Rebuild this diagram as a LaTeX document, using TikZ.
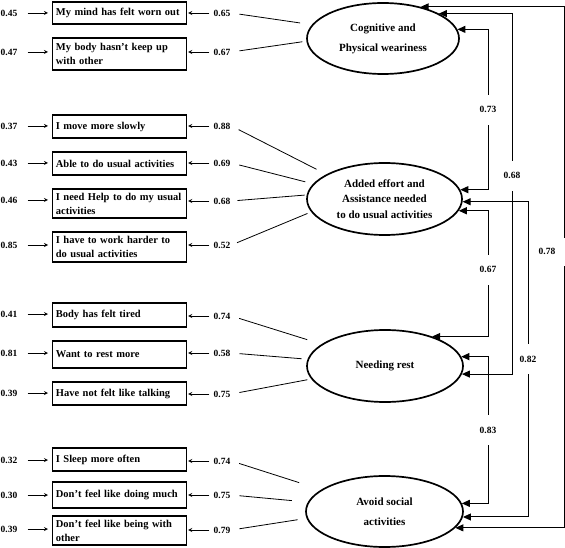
\documentclass[tikz,border=0pt]{standalone}
\usepackage{fontspec}
\setmainfont{Liberation Serif}
\usepackage{tikz}
\usetikzlibrary{arrows,arrows.meta,shapes,positioning,calc}
\tikzstyle{arrow} = [->,>=stealth, line width=0.8pt]
\tikzstyle{corr} = [{Triangle[length=8pt,width=7pt]}-{Triangle[length=8pt,width=7pt]}, line width=1pt]
\tikzstyle{link} = [line width=0.8pt]
\tikzstyle{item} = [rectangle, draw, line width=1.2pt, anchor=west, text width=127.5pt, inner xsep=3.25pt, inner ysep=2pt, minimum height=23pt, align=left, font=\fontsize{10.5}{14}\selectfont\bfseries]
\tikzstyle{factor} = [ellipse, draw, line width=1.7pt, inner sep=0pt, align=center, font=\fontsize{11}{15.5}\selectfont\bfseries]
\tikzstyle{num} = [inner sep=1pt, font=\fontsize{9.5}{11}\selectfont\bfseries]
\tikzstyle{rlab} = [num, fill=white, minimum height=30pt]

\begin{document}
\begin{tikzpicture}[x=1pt, y=-1pt]
    \useasboundingbox (0,0) rectangle (565,548);

    % Four factors
    \node[factor, minimum width=152pt, minimum height=71pt] (f1) at (383,38.5) {Cognitive and\\[4.5pt]Physical weariness};
    \node[factor, minimum width=155pt, minimum height=72pt] (f2) at (384.5,199) {Added effort and\\Assistance needed\\to do usual activities};
    \node[factor, minimum width=156pt, minimum height=72pt] (f3) at (385,366) {Needing rest};
    \node[factor, minimum width=157pt, minimum height=71pt] (f4) at (384.5,511.5) {Avoid social\\[4.5pt]activities};

    % Items
    \node[item, minimum height=22pt] (i1) at (52,13) {My mind has felt worn out};
    \node[item, minimum height=32pt] (i2) at (52,54) {My body hasn't keep up\\with other};
    \node[item] (i3) at (52,126.5) {I move more slowly};
    \node[item] (i4) at (52,163.5) {Able to do usual activities};
    \node[item, minimum height=29pt] (i5) at (52,203.5) {\mbox{I need Help to do my usual}\\activities};
    \node[item, minimum height=30pt] (i6) at (52,247) {I have to work harder to\\do usual activities};
    \node[item, minimum height=24pt] (i7) at (52,315) {Body has felt tired};
    \node[item, minimum height=27pt] (i8) at (52,354.5) {Want to rest more};
    \node[item] (i9) at (52,393.5) {Have not felt like talking};
    \node[item] (i10) at (52,459.5) {I Sleep more often};
    \node[item, minimum height=26pt] (i11) at (52,495) {Don't feel like doing much};
    \node[item, minimum height=29pt] (i12) at (52,530.5) {Don't feel like being with\\other};

    % Error terms
    \node[num] (e1) at (9,13) {0.45};
    \node[num] (e2) at (9,52) {0.47};
    \node[num] (e3) at (9,126) {0.37};
    \node[num] (e4) at (9,163) {0.43};
    \node[num] (e5) at (9,200) {0.46};
    \node[num] (e6) at (9,245) {0.85};
    \node[num] (e7) at (9,314) {0.41};
    \node[num] (e8) at (9,353) {0.81};
    \node[num] (e9) at (9,393) {0.39};
    \node[num] (e10) at (9,460) {0.32};
    \node[num] (e11) at (9,495) {0.30};
    \node[num] (e12) at (9,529) {0.39};

    % Loadings
    \node[num] (l1) at (222,13) {0.65};
    \node[num] (l2) at (222,52) {0.67};
    \node[num] (l3) at (222,126) {0.88};
    \node[num] (l4) at (222,163) {0.69};
    \node[num] (l5) at (222,201) {0.68};
    \node[num] (l6) at (222,245) {0.52};
    \node[num] (l7) at (222,316) {0.74};
    \node[num] (l8) at (222,353) {0.58};
    \node[num] (l9) at (222,394) {0.75};
    \node[num] (l10) at (222,461) {0.74};
    \node[num] (l11) at (222,495) {0.75};
    \node[num] (l12) at (222,530) {0.79};

    % Small arrows into the items
    \foreach \k in {1,...,12} {
        \draw[arrow, shorten <=9pt, shorten >=4pt] (e\k) -- (e\k -| i\k.west);
        \draw[arrow, shorten <=3pt, shorten >=1pt] (l\k) -- (l\k -| i\k.east);
    }

    % Lines to the factors
    \draw[link, shorten <=8pt, shorten >=12pt] (l1.east) -- (f1.169);
    \draw[link, shorten <=8pt, shorten >=4pt] (l2.east) -- (f1.182);
    \draw[link, shorten <=8pt, shorten >=11pt] (l3.east) -- (f2.157);
    \draw[link, shorten <=8pt, shorten >=8pt] (l4.east) -- (f2.168);
    \draw[link, shorten <=6pt, shorten >=2pt] (l5.east) -- (f2.177);
    \draw[link, shorten <=6pt, shorten >=4pt] (l6.east) -- (f2.190);
    \draw[link, shorten <=8pt, shorten >=15pt] (l7.east) -- (f3.161);
    \draw[link, shorten <=8pt, shorten >=6pt] (l8.east) -- (f3.175);
    \draw[link, shorten <=8pt, shorten >=4pt] (l9.east) -- (f3.190);
    \draw[link, shorten <=8pt, shorten >=23pt] (l10.east) -- (f4.161);
    \draw[link, shorten <=8pt, shorten >=16pt] (l11.east) -- (f4.173);
    \draw[link, shorten <=8pt, shorten >=9pt] (l12.east) -- (f4.185);

    % Correlations between factors
    \coordinate (r1) at (488,0);
    \coordinate (r2) at (512,0);
    \coordinate (r3) at (528,0);
    \coordinate (r4) at (564,0);
    \draw[corr] (f1.7) -- (f1.7 -| r1) -- node[rlab] {0.73} (f2.7 -| r1) -- (f2.7);
    \draw[corr] (f2.-9) -- (f2.-9 -| r1) -- node[rlab, pos=0.47] {0.67} (f3.32 -| r1) -- (f3.32);
    \draw[corr] (f3.7) -- (f3.7 -| r1) -- node[rlab] {0.83} (f4.6 -| r1) -- (f4.6);
    \draw[corr] (f1.24) -- (f1.24 -| r2) -- node[rlab, pos=0.45] {0.68} (f3.-6 -| r2) -- (f3.-6);
    \draw[corr] (f2.-2) -- (f2.-2 -| r3) -- node[rlab] {0.82} (f4.-4 -| r3) -- (f4.-4);
    \draw[corr] (f1.40) -- (f1.40 -| r4) -- node[rlab, pos=0.47, xshift=-17pt, minimum width=35pt, minimum height=28pt] {0.78} (f4.-13 -| r4) -- (f4.-13);
\end{tikzpicture}
\end{document}
